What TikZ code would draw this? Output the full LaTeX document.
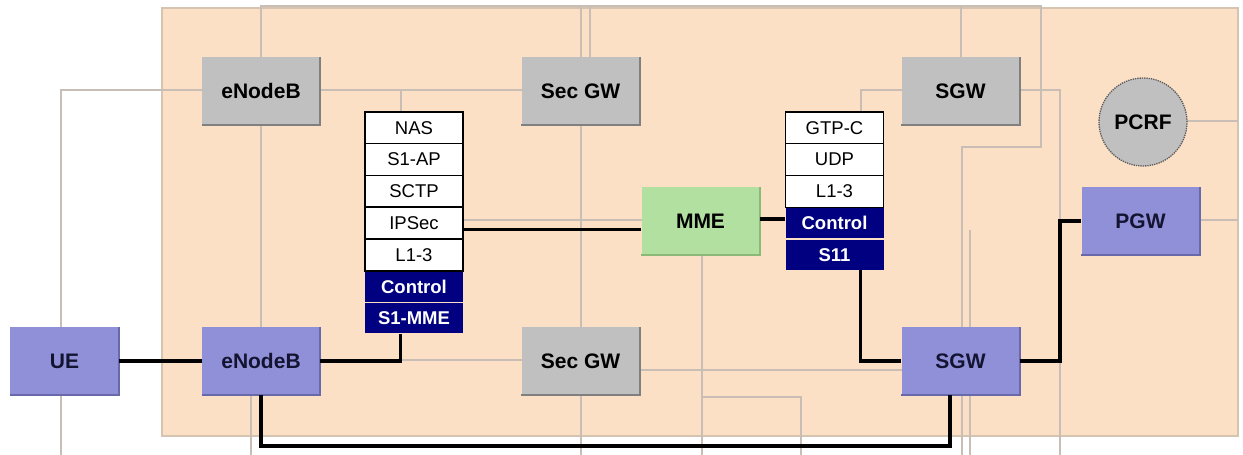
\documentclass[tikz,border=0pt]{standalone}
\usepackage{fontspec}
\setmainfont{Liberation Sans}
\usetikzlibrary{calc}
\definecolor{peach}{RGB}{252,224,198}
\definecolor{peachedge}{RGB}{214,196,178}
\definecolor{bgline}{RGB}{200,190,182}
\definecolor{boxgray}{RGB}{192,192,192}
\definecolor{boxgrayd}{RGB}{128,128,128}
\definecolor{boxpurple}{RGB}{144,144,216}
\definecolor{boxpurpled}{RGB}{104,104,170}
\definecolor{boxgreen}{RGB}{178,224,160}
\definecolor{boxgreend}{RGB}{140,184,120}
\definecolor{navyrow}{RGB}{0,0,128}
\definecolor{darktext}{RGB}{20,20,50}
\tikzset{
  bgl/.style={draw=bgline, line width=1.2pt},
  conn/.style={draw=black, line width=3.2pt},
  netbox/.style={minimum width=118pt, minimum height=68pt, inner sep=0pt,
    font=\fontsize{21}{25}\selectfont\bfseries},
  graybox/.style={netbox, fill=boxgray, text=black},
  purplebox/.style={netbox, fill=boxpurple, text=darktext},
  greenbox/.style={netbox, fill=boxgreen, text=black},
  whiterow/.style={minimum width=98pt, minimum height=31.75pt, inner sep=0pt,
    fill=white, draw=black, line width=1.5pt, font=\fontsize{18.5}{22}\selectfont},
  navyrowst/.style={minimum width=98pt, minimum height=30pt, inner sep=0pt,
    fill=navyrow, text=white, font=\fontsize{18.5}{22}\selectfont\bfseries},
  pcrfst/.style={circle, minimum size=88pt, inner sep=0pt, fill=boxgray,
    draw=black!65, densely dotted, line width=1.3pt,
    font=\fontsize{21}{25}\selectfont\bfseries}
}
\begin{document}
\begin{tikzpicture}[x=1pt,y=-1pt]
\useasboundingbox (0,0) rectangle (1243,455);
\fill[white] (0,0) rectangle (1243,455);
% peach background
\draw[fill=peach, draw=peachedge, line width=1.2pt] (162,8) rectangle (1238,436);

% background grey lines
\draw[bgl] (202,90) -- (61,90) -- (61,455);
\draw[bgl] (261,57) -- (261,6) -- (1041,6) -- (1041,147) -- (962,147) -- (962,455);
\draw[bgl] (970,230) -- (970,455);
\draw[bgl] (581,6) -- (581,57);
\draw[bgl] (590,6) -- (590,57);
\draw[bgl] (961,6) -- (961,57);
\draw[bgl] (581,125) -- (581,327);
\draw[bgl] (581,395) -- (581,455);
\draw[bgl] (320,90) -- (522,90);
\draw[bgl] (401,90) -- (401,112);
\draw[bgl] (261,125) -- (261,327);
\draw[bgl] (251,395) -- (251,455);
\draw[bgl] (463,220) -- (642,220);
\draw[bgl] (401,360) -- (522,360);
\draw[bgl] (639,370) -- (902,370);
\draw[bgl] (702,255) -- (702,455);
\draw[bgl] (702,397) -- (801,397) -- (801,455);
\draw[bgl] (902,90) -- (861,90) -- (861,112);
\draw[bgl] (1019,90) -- (1060,90) -- (1060,455);
\draw[bgl] (1187,121) -- (1238,121);
\draw[bgl] (1199,220) -- (1238,220);

% network boxes
\node[purplebox, minimum width=109pt] (ue) at (64.5,361) {UE};
\node[purplebox] (enb2) at (261,361) {eNodeB};
\node[graybox] (enb1) at (261,91) {eNodeB};
\node[graybox] (sec1) at (580.5,91) {Sec GW};
\node[graybox] (sec2) at (580.5,361) {Sec GW};
\node[greenbox] (mme) at (700.5,221) {MME};
\node[graybox] (sgw1) at (960.5,91) {SGW};
\node[purplebox] (sgw2) at (960.5,361) {SGW};
\node[purplebox] (pgw) at (1140.5,221) {PGW};
\node[pcrfst] (pcrf) at (1143,122) {PCRF};

% box edge shading
\foreach \n/\c in {ue/boxpurpled, enb2/boxpurpled, sgw2/boxpurpled, pgw/boxpurpled,
  enb1/boxgrayd, sec1/boxgrayd, sec2/boxgrayd, sgw1/boxgrayd, mme/boxgreend}
  {\draw[\c, line width=1.8pt] (\n.south west) -| (\n.north east);}

% left protocol stack
\node[whiterow] (nas) at (414,127.9) {NAS};
\node[whiterow] (s1ap) at (414,159.6) {S1-AP};
\node[whiterow] (sctp) at (414,191.4) {SCTP};
\node[whiterow] (ipsec) at (414,223.1) {IPSec};
\node[whiterow] (l13a) at (414,254.9) {L1-3};
\node[navyrowst] (ctrl1) at (414,286.6) {Control};
\node[navyrowst] (s1mme) at (414,318.4) {S1-MME};

% right protocol stack
\node[whiterow] (gtpc) at (834.5,127.9) {GTP-C};
\node[whiterow] (udp) at (834.5,159.6) {UDP};
\node[whiterow] (l13b) at (834.5,191.4) {L1-3};
\node[navyrowst] (ctrl2) at (834.5,223.1) {Control};
\node[navyrowst] (s11) at (834.5,254.9) {S11};

% black connectors
\draw[conn] (ue.east) -- (enb2.west);
\draw[conn] (enb2.east) -| ($(s1mme.south west)+(36,0)$);
\coordinate (b1) at (261,446);
\coordinate (b2) at (950,446);
\draw[conn] (enb2.south) -- (b1) -- (b2) -- (b2 |- sgw2.south);
\draw[conn] ($(ipsec.east)+(0,6)$) coordinate (a1) -- (a1 -| mme.west);
\draw[conn] ($(mme.east)+(0,-2)$) coordinate (a2) -- (a2 -| ctrl2.west);
\draw[conn] ($(s11.south west)+(75,0)$) |- (sgw2.west);
\coordinate (c1) at (1060,361);
\draw[conn] (sgw2.east) -- (c1) |- (pgw.west);
\end{tikzpicture}
\end{document}
